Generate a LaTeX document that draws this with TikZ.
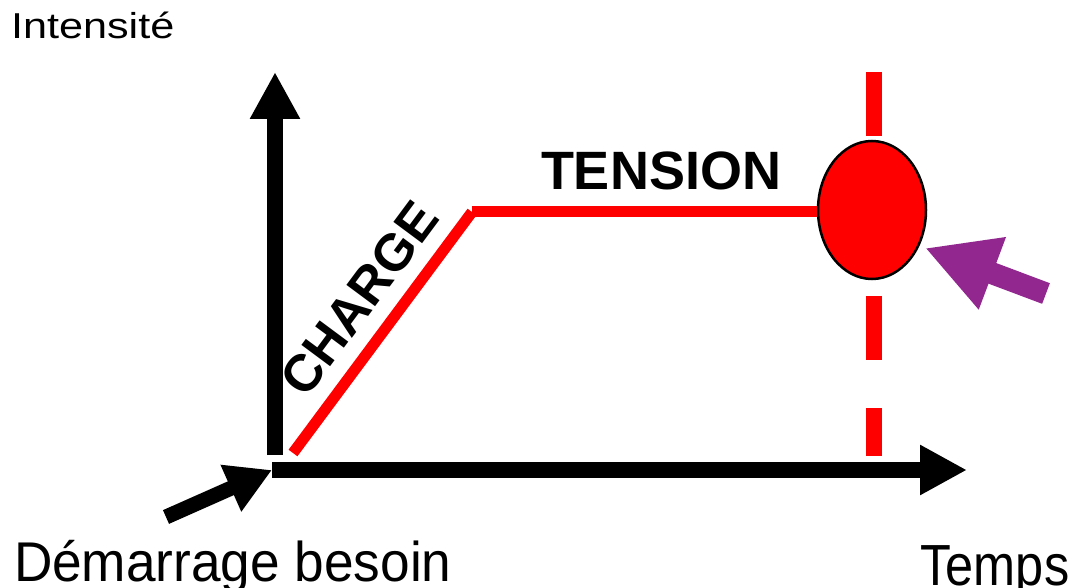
\documentclass[tikz,border=0pt]{standalone}
\usepackage{fontspec}
\setmainfont{Liberation Sans}
\usepackage{graphicx}
\usetikzlibrary{arrows.meta,shapes.geometric}
\definecolor{myred}{RGB}{255,0,0}
\definecolor{mypurple}{RGB}{146,39,143}
\begin{document}
\begin{tikzpicture}[x=1pt,y=-1pt,
  axis/.style={line width=16pt,-{Triangle[length=47pt,width=47pt]}},
  redline/.style={myred,line width=11pt},
  lbl/.style={inner sep=0pt,outer sep=0pt,anchor=base west},
]
\useasboundingbox (0,0) rectangle (1077,588);
% axes
\coordinate (O) at (275,455);
\coordinate (Ytip) at (275,72);
\coordinate (X0) at (272,470);
\coordinate (Xtip) at (967,470);
\draw[axis] (O) -- (Ytip);
\draw[axis] (X0) -- (Xtip);
% dashed vertical line
\coordinate (Dtop) at (874,72);
\coordinate (Dbot) at (874,456);
\draw[myred,line width=16pt,dash pattern=on 64pt off 48pt] (Dtop) -- (Dbot);
% ellipse
\node[ellipse,draw=black,line width=2.5pt,fill=myred,minimum width=108pt,minimum height=138pt,inner sep=0pt] (E) at (872,210) {};
% red curve
\coordinate (R0) at (293,453);
\coordinate (R1) at (472,212);
\draw[redline] (R0) -- node[pos=0.545,sloped,anchor=south,inner sep=15pt,text=black,font=\bfseries\fontsize{52}{58}\selectfont] (C) {CHARGE} (R1);
\draw[redline] (R1) -- (R1 -| E.west);
\node[lbl,font=\bfseries\fontsize{54}{60}\selectfont] (T) at (541,190) {TENSION};
% small arrows
\coordinate (Btail) at (166,517);
\draw[line width=15pt,-{Triangle[length=45pt,width=48pt]}] (Btail) -- (X0);
\coordinate (Ptail) at (1046,293.5);
\coordinate (Ptip) at (925,248);
\draw[mypurple,line width=22pt,-{Triangle[length=72pt,width=72pt]}] (Ptail) -- (Ptip);
% labels
\node[lbl] (I) at (11,38.3) {\fontsize{36}{40}\selectfont\scalebox{1.2}[1]{Intensité}};
\node[lbl] (D) at (14,581) {\fontsize{56}{60}\selectfont\scalebox{0.95}[1]{Démarrage besoin}};
\node[lbl] (Tm) at (920.6,585) {\fontsize{58}{64}\selectfont\scalebox{0.87}[1]{Temps}};
\end{tikzpicture}
\end{document}
